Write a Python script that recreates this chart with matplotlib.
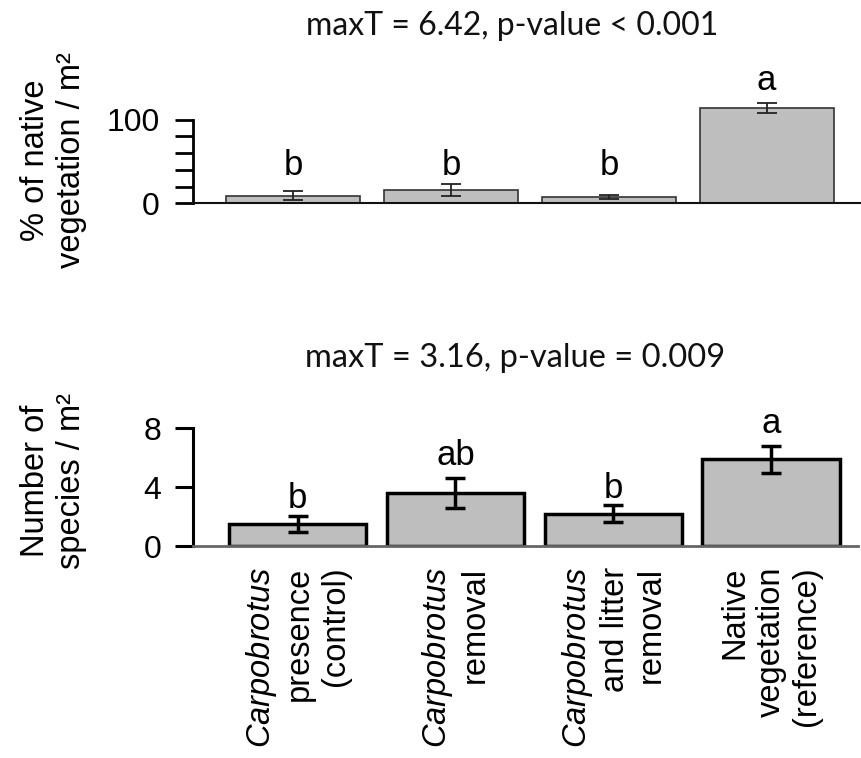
import matplotlib
matplotlib.use("Agg")
import matplotlib.pyplot as plt
import numpy as np

plt.rcParams['font.family'] = ['Liberation Sans', 'DejaVu Sans']
plt.rcParams['mathtext.fontset'] = 'custom'
plt.rcParams['mathtext.rm'] = 'Liberation Sans'
plt.rcParams['mathtext.it'] = 'Liberation Sans:italic'

# ---- data ----
categories = ["$\\it{Carpobrotus}$\npresence\n(control)",
              "$\\it{Carpobrotus}$\nremoval",
              "$\\it{Carpobrotus}$\nand litter\nremoval",
              "Native\nvegetation\n(reference)"]
cover_mean = [9, 16, 7.8, 114]
cover_err = [5.3, 7.3, 2.7, 6]
cover_letters = ["b", "b", "b", "a"]
cover_letter_y = [33.7, 33.7, 33.7, 135]
cover_title = "maxT = 6.42, p-value < 0.001"

rich_mean = [1.5, 3.6, 2.2, 5.9]
rich_err = [0.52, 0.99, 0.58, 0.93]
rich_letters = ["b", "ab", "b", "a"]
rich_letter_y = [2.6, 5.5, 3.27, 7.69]
rich_title = "maxT = 3.16, p-value = 0.009"

W, H = 861, 758
fig = plt.figure(figsize=(W / 100, H / 100), dpi=100)

def frac_x(px):
    return px / W

def frac_y(px):
    return 1 - px / H

x = np.arange(len(categories))
fill = '#bebebe'

# ---- top panel ----
top_ylim = 160
top_zero = 203.3
top_scale = 0.8367  # px per unit
ax1 = fig.add_axes([frac_x(193), frac_y(top_zero), frac_x(860) - frac_x(193),
                    top_ylim * top_scale / H])
ax1.bar(x, cover_mean, width=0.85, color=fill, edgecolor='#333333', linewidth=1.2)
ax1.errorbar(x, cover_mean, yerr=cover_err, fmt='none', ecolor='#222222',
             elinewidth=1.3, capsize=7, capthick=1.3)
for xi, lab, ly in zip(x, cover_letters, cover_letter_y):
    ax1.text(xi, ly, lab, ha='center', va='baseline', fontsize=25)
ax1.set_xlim(-0.637, 3.592)
ax1.set_ylim(0, top_ylim)
ax1.spines['top'].set_visible(False)
ax1.spines['right'].set_visible(False)
ax1.spines['left'].set_bounds(0, 100)
ax1.spines['left'].set_linewidth(2)
ax1.spines['bottom'].set_linewidth(1.5)
ax1.spines['bottom'].set_color('#111111')
ax1.set_yticks([0, 20, 40, 60, 80, 100])
ax1.set_yticklabels(['0', '', '', '', '', '100'])
ax1.tick_params(axis='y', length=13, width=2, labelsize=23, pad=11)
ax1.set_xticks([])
ax1.set_ylabel("% of native\nvegetation / m²", fontsize=23.5, linespacing=1.2)
ax1.yaxis.set_label_coords(-0.159, (top_zero - 160.5) / (top_ylim * top_scale))
fig.text(frac_x(512), frac_y(35), cover_title, ha='center', va='baseline',
         fontsize=23, family=['Lato', 'DejaVu Sans'], color='#111111')

# ---- bottom panel ----
bot_ylim = 9.5
bot_zero = 546
bot_scale = 14.71
ax2 = fig.add_axes([frac_x(193), frac_y(bot_zero), frac_x(858) - frac_x(193),
                    bot_ylim * bot_scale / H])
ax2.bar(x, rich_mean, width=0.87, color=fill, edgecolor='black', linewidth=2.5)
ax2.errorbar(x, rich_mean, yerr=rich_err, fmt='none', ecolor='black',
             elinewidth=2.5, capsize=7.5, capthick=2.5)
for xi, lab, ly in zip(x, rich_letters, rich_letter_y):
    ax2.text(xi, ly, lab, ha='center', va='baseline', fontsize=25)
ax2.set_xlim(-0.662, 3.55)
ax2.set_ylim(0, bot_ylim)
ax2.spines['top'].set_visible(False)
ax2.spines['right'].set_visible(False)
ax2.spines['left'].set_bounds(0, 8)
ax2.spines['left'].set_linewidth(2.2)
ax2.spines['bottom'].set_linewidth(2)
ax2.spines['bottom'].set_color('#666666')
ax2.set_yticks([0, 4, 8])
ax2.tick_params(axis='y', length=13, width=2.2, labelsize=23, pad=10)
ax2.set_xticks(x)
ax2.set_xticklabels(categories, rotation=90, ha='center', va='top',
                    multialignment='right', fontsize=23.5, linespacing=1.2)
ax2.tick_params(axis='x', length=0, pad=15)
ax2.set_ylabel("Number of\nspecies / m²", fontsize=23.5, linespacing=1.2)
ax2.yaxis.set_label_coords(-0.159, (bot_zero - 481) / (bot_ylim * bot_scale))
fig.text(frac_x(515), frac_y(367), rich_title, ha='center', va='baseline',
         fontsize=23.5, family=['Lato', 'DejaVu Sans'], color='#111111')

fig.savefig("out.png", dpi=100)
